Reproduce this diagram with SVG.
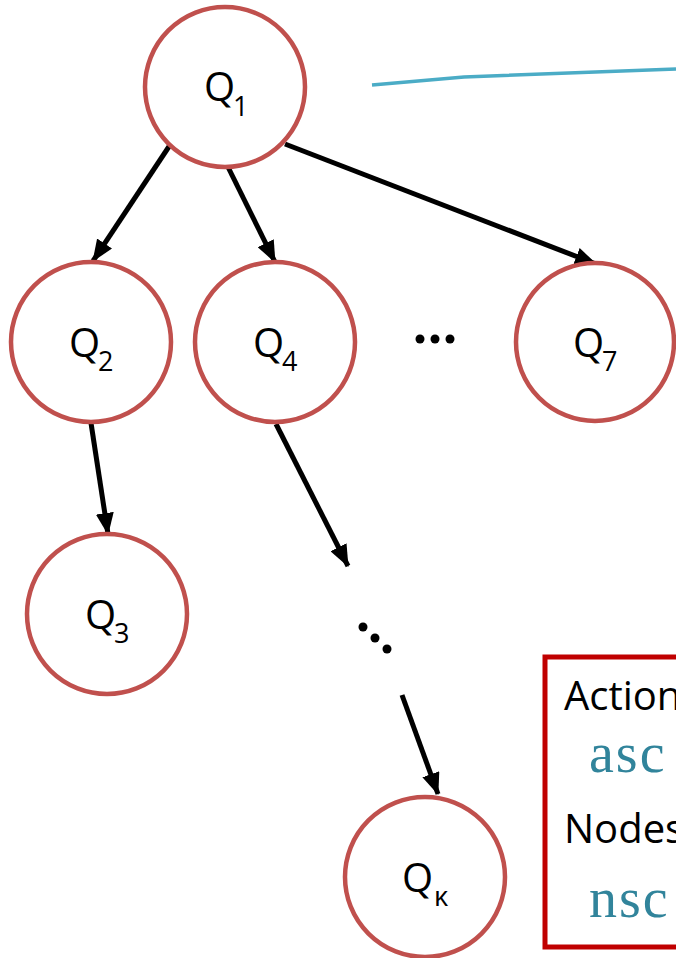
<svg xmlns="http://www.w3.org/2000/svg" width="676" height="958" viewBox="0 0 676 958">
<defs>
<style>
.node{fill:#fff;stroke:#C0504D;stroke-width:4.5}
.q{font-family:"Open Sans","Liberation Sans",Arial,sans-serif;font-size:40px;fill:#000}
.sub{font-family:"Open Sans","Liberation Sans",Arial,sans-serif;font-size:27px;fill:#000}
.edge{stroke:#000;stroke-width:5;fill:none;marker-end:url(#ah)}
.lbl{font-family:"Open Sans","Liberation Sans",Arial,sans-serif;font-size:40px;fill:#000}
.math{font-family:"Liberation Serif","Times New Roman",serif;font-size:56px;letter-spacing:2px;fill:#31849B}
</style>
<marker id="ah" markerUnits="userSpaceOnUse" markerWidth="22" markerHeight="18" viewBox="0 0 22 18" refX="21" refY="9" orient="auto">
<path d="M0,0 L22,9 L0,18 Z" fill="#000"/>
</marker>
</defs>
<rect width="676" height="958" fill="#fff"/>
<polyline points="372,85 464,77 676,69" fill="none" stroke="#4BACC6" stroke-width="3.5"/>
<g id="connectors">
<line class="edge" x1="170" y1="145" x2="93" y2="261"/>
<line class="edge" x1="228" y1="167" x2="275" y2="262"/>
<line class="edge" x1="285" y1="144" x2="596" y2="264"/>
<line class="edge" x1="91" y1="423" x2="108" y2="534"/>
<line class="edge" x1="276" y1="424" x2="348" y2="566"/>
<line class="edge" x1="402" y1="695" x2="438" y2="794"/>
</g>
<g id="Q1"><circle class="node" cx="225" cy="87" r="80"/><text class="q" x="204" y="101">Q</text><text class="sub" x="233" y="116">1</text></g>
<g id="Q2"><circle class="node" cx="91" cy="342" r="80"/><text class="q" x="69" y="357">Q</text><text class="sub" x="98" y="371">2</text></g>
<g id="Q4"><circle class="node" cx="275" cy="342" r="80"/><text class="q" x="253" y="357">Q</text><text class="sub" x="282" y="371">4</text></g>
<g id="Q7"><circle class="node" cx="595" cy="342" r="79"/><text class="q" x="573" y="357">Q</text><text class="sub" x="602" y="371">7</text></g>
<g id="Q3"><circle class="node" cx="107" cy="614" r="80"/><text class="q" x="85" y="629">Q</text><text class="sub" x="114" y="643">3</text></g>
<g id="Qk"><circle class="node" cx="425" cy="877" r="80"/><text class="q" x="402" y="892">Q</text><text class="sub" x="434" y="906">κ</text></g>
<g id="hdots" fill="#000"><circle cx="420" cy="339" r="4.5"/><circle cx="435" cy="339" r="4.5"/><circle cx="450" cy="339" r="4.5"/></g>
<g id="ddots" fill="#000"><circle cx="363" cy="627" r="4.5"/><circle cx="375" cy="638" r="4.5"/><circle cx="387" cy="649" r="4.5"/></g>
<g id="infobox">
<rect x="545" y="657" width="160" height="290" fill="#fff" stroke="#C00000" stroke-width="5"/>
<text class="lbl" x="564" y="710">Action</text>
<text class="math" x="589" y="772">asc</text>
<text class="lbl" x="564" y="843">Nodes</text>
<text class="math" x="589" y="917">nsc</text>
</g>
</svg>
